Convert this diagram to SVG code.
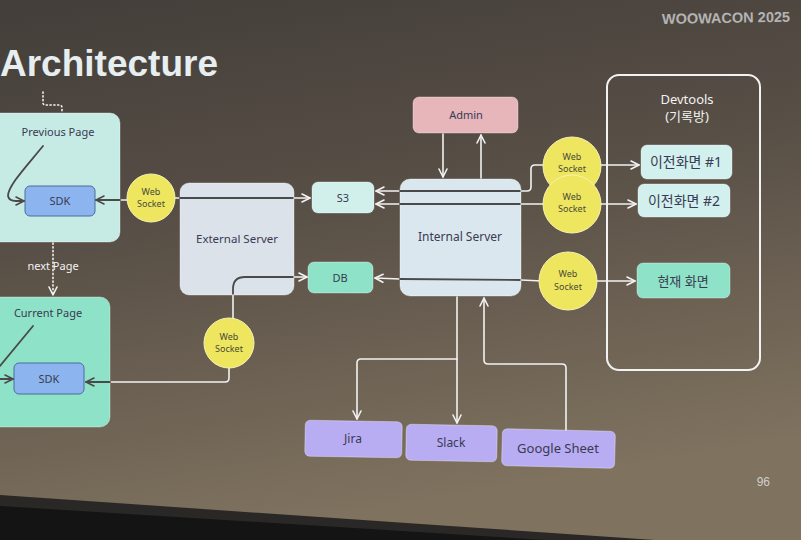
<svg xmlns="http://www.w3.org/2000/svg" width="801" height="540" viewBox="0 0 801 540">
<defs>
<linearGradient id="bg" x1="0" y1="0" x2="0.25" y2="1">
<stop offset="0" stop-color="#433e3a"/>
<stop offset="0.45" stop-color="#584f46"/>
<stop offset="1" stop-color="#7f725f"/>
</linearGradient>
<marker id="aw" viewBox="0 0 10 10" refX="9" refY="5" markerWidth="10" markerHeight="10" markerUnits="userSpaceOnUse" orient="auto">
<path d="M1,1 L9,5 L1,9" fill="none" stroke="#f2f2f2" stroke-width="1.6" stroke-linecap="round" stroke-linejoin="round"/>
</marker>
<marker id="ad" viewBox="0 0 10 10" refX="9" refY="5" markerWidth="10" markerHeight="10" markerUnits="userSpaceOnUse" orient="auto">
<path d="M1,1 L9,5 L1,9" fill="none" stroke="#4a4a4a" stroke-width="1.6" stroke-linecap="round" stroke-linejoin="round"/>
</marker>
</defs>
<style>
.box{stroke:#ffffff;stroke-opacity:0.35;stroke-width:1}
.t{font-family:"Noto Sans","Noto Sans CJK KR",sans-serif;fill:#3a3a52;text-anchor:middle}
.w{stroke:#f2f2f2;stroke-width:1.6;fill:none;stroke-linecap:round;stroke-linejoin:round}
.d{stroke:#4a4a4a;stroke-width:1.8;fill:none;stroke-linecap:round;stroke-linejoin:round}
.dot{stroke:#f2f2f2;stroke-width:1.6;fill:none;stroke-dasharray:1.2 2.6;stroke-linecap:round}
.ws{fill:#eee65e;stroke:#f7f3b0;stroke-width:1}
.wst{font-family:"Noto Sans",sans-serif;font-size:9px;fill:#4a4a3a;text-anchor:middle}
</style>
<rect x="0" y="0" width="801" height="540" fill="url(#bg)"/>
<polygon points="0,495 450,526 801,550 801,540 0,540" fill="#2a2826"/>
<polygon points="0,506 450,534 801,556 801,540 0,540" fill="#141414"/>
<text x="0" y="76" font-family="Liberation Sans, sans-serif" font-weight="bold" font-size="37" fill="#e6eef0">Architecture</text>
<text x="790" y="23" font-family="Liberation Sans, sans-serif" font-weight="bold" font-size="14.5" fill="#b4b4b4" text-anchor="end" transform="rotate(-1 720 18)">WOOWACON 2025</text>
<text x="770" y="486" font-family="Liberation Sans, sans-serif" font-size="12" fill="#cfcfc8" text-anchor="end">96</text>

<g id="previous-page"><rect class="box" x="-12" y="113" width="132" height="129" rx="10" fill="#c6ebe5"/><text class="t" x="58" y="136" font-size="11">Previous Page</text></g>
<g id="previous-sdk"><rect x="25" y="186" width="70" height="30" rx="5" fill="#8cb4ee" stroke="#4c6c9e" stroke-width="1"/><text class="t" x="60" y="205" font-size="11">SDK</text></g>
<g id="current-page"><rect class="box" x="-12" y="297" width="122" height="130" rx="10" fill="#8ee2c7"/><text class="t" x="48" y="317" font-size="11">Current Page</text></g>
<g id="current-sdk"><rect x="14" y="363" width="70" height="31" rx="5" fill="#8cb4ee" stroke="#4c6c9e" stroke-width="1"/><text class="t" x="49" y="383" font-size="11">SDK</text></g>
<g id="external-server"><rect class="box" x="180" y="183" width="114" height="112" rx="9" fill="#dce2ea"/><text class="t" x="237" y="243" font-size="11.5">External Server</text></g>
<g id="s3"><rect class="box" x="312" y="182" width="62" height="31" rx="6" fill="#d2f0eb"/><text class="t" x="343" y="202" font-size="11">S3</text></g>
<g id="db"><rect class="box" x="308" y="262" width="65" height="31" rx="6" fill="#8ee2c7"/><text class="t" x="340" y="282" font-size="11">DB</text></g>
<g id="admin"><rect class="box" x="413" y="97" width="105" height="36" rx="6" fill="#e6b6ba"/><text class="t" x="466" y="119" font-size="11">Admin</text></g>
<g id="internal-server"><rect class="box" x="400" y="179" width="121" height="117" rx="10" fill="#dbe7ee"/><text class="t" x="460" y="241" font-size="12">Internal Server</text></g>
<g id="devtools"><rect x="607" y="75" width="153" height="295" rx="12" fill="none" stroke="#f2f2f2" stroke-width="2"/><text x="687" y="104" font-family="Noto Sans, sans-serif" font-size="13" fill="#f2f2f2" text-anchor="middle">Devtools</text><text x="687" y="121" font-family="Noto Sans, Noto Sans CJK KR, sans-serif" font-size="13" fill="#f2f2f2" text-anchor="middle">(기록방)</text></g>
<g id="prev-screen-1"><rect class="box" x="641" y="145" width="91" height="34" rx="6" fill="#d2f0ee"/><text class="t" x="686" y="167" font-size="14">이전화면 #1</text></g>
<g id="prev-screen-2"><rect class="box" x="638" y="184" width="92" height="33" rx="6" fill="#d2f0ee"/><text class="t" x="684" y="206" font-size="14">이전화면 #2</text></g>
<g id="current-screen"><rect class="box" x="637" y="263" width="93" height="35" rx="6" fill="#8ee2c7"/><text class="t" x="683" y="286" font-size="13">현재 화면</text></g>
<g id="jira"><rect class="box" x="305" y="421" width="97" height="36" rx="5" fill="#b8adf2" transform="rotate(1 353 439)"/><text class="t" x="353" y="443" font-size="12">Jira</text></g>
<g id="slack"><rect class="box" x="406" y="425" width="91" height="36" rx="5" fill="#b8adf2" transform="rotate(1 451 443)"/><text class="t" x="451" y="447" font-size="12">Slack</text></g>
<g id="google-sheet"><rect class="box" x="502" y="430" width="113" height="37" rx="5" fill="#b8adf2" transform="rotate(1.5 558 448)"/><text class="t" x="558" y="453" font-size="13">Google Sheet</text></g>

<g id="connectors">
<path class="dot" d="M43,92 L43,103 Q43,105 46,105 L59,105 Q62,105 62,108 L62,112"/>
<path class="d" d="M43,146 C25,168 8,186 8,196 Q9,201 16,201 L24,201" marker-end="url(#ad)"/>
<path class="dot" d="M53,243 L53,295" marker-end="url(#aw)"/>
<text x="53" y="270" font-family="Noto Sans, sans-serif" font-size="11" fill="#f2f2f2" text-anchor="middle">next Page</text>
<path class="d" d="M33,326 L0,366"/>
<path class="d" d="M0,379 L13,379" marker-end="url(#ad)"/>
<path class="w" d="M120,200 L128,200"/>
<path class="d" d="M120,200 L96,200" marker-end="url(#ad)"/>
<path class="w" d="M174,198 L180,198"/>
<path class="d" d="M180,198 L294,198"/>
<path class="w" d="M294,198 L310,198" marker-end="url(#aw)"/>
<path class="d" d="M294,277 L245,277 Q233,277 233,289 L233,295"/>
<path class="w" d="M294,277 L307,277" marker-end="url(#aw)"/>
<path class="w" d="M233,295 L233,320"/>
<path class="w" d="M229,366 L229,378 Q229,382 225,382 L110,382"/>
<path class="d" d="M110,382 L86,382" marker-end="url(#ad)"/>
<path class="w" d="M400,191 L376,191" marker-end="url(#aw)"/>
<path class="d" d="M400,191 L521,191"/>
<path class="w" d="M521,191 L527,191 Q531,191 531,187 L531,169 Q531,165 535,165 L545,165"/>
<path class="w" d="M598,165 L639,165" marker-end="url(#aw)"/>
<path class="w" d="M400,204 L376,204" marker-end="url(#aw)"/>
<path class="d" d="M400,204 L521,204"/>
<path class="w" d="M521,204 L546,204"/>
<path class="w" d="M599,204 L636,204" marker-end="url(#aw)"/>
<path class="w" d="M400,279 L375,278" marker-end="url(#aw)"/>
<path class="d" d="M400,279 L521,280"/>
<path class="w" d="M521,280 L542,281"/>
<path class="w" d="M595,281 L635,281" marker-end="url(#aw)"/>
<path class="w" d="M443,134 L443,177" marker-end="url(#aw)"/>
<path class="w" d="M481,178 L481,135" marker-end="url(#aw)"/>
<path class="w" d="M457,297 L457,423" marker-end="url(#aw)"/>
<path class="w" d="M457,359 L361,359 Q357,359 357,363 L357,419" marker-end="url(#aw)"/>
<path class="w" d="M566,430 L566,368 Q566,364 562,364 L488,364 Q484,364 484,360 L484,298" marker-end="url(#aw)"/>
</g>

<g id="ws-sdk-prev"><circle class="ws" cx="151" cy="198" r="24"/><text class="wst" x="151" y="195">Web</text><text class="wst" x="151" y="207">Socket</text></g>
<g id="ws-sdk-current"><circle class="ws" cx="229" cy="343" r="25"/><text class="wst" x="229" y="340">Web</text><text class="wst" x="229" y="352">Socket</text></g>
<g id="ws-prev-1"><circle class="ws" cx="572" cy="166" r="29"/><text class="wst" x="572" y="160">Web</text><text class="wst" x="572" y="172">Socket</text></g>
<g id="ws-prev-2"><circle class="ws" cx="572" cy="204" r="29"/><text class="wst" x="572" y="200">Web</text><text class="wst" x="572" y="212">Socket</text></g>
<g id="ws-current"><circle class="ws" cx="568" cy="281" r="29"/><text class="wst" x="568" y="277">Web</text><text class="wst" x="568" y="290">Socket</text></g>
</svg>
